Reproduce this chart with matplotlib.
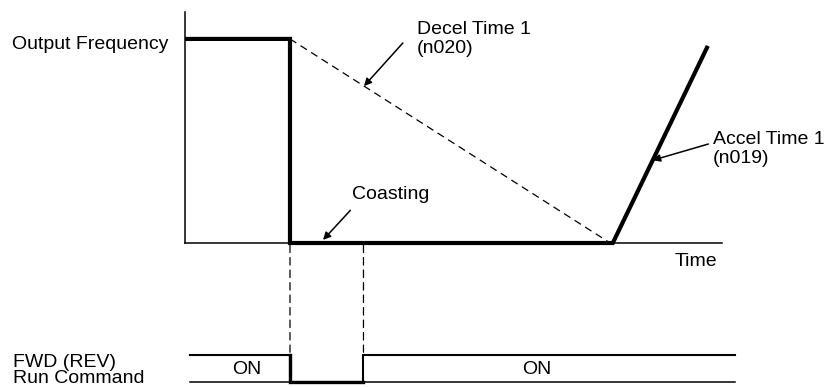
import numpy as np
import matplotlib.pyplot as plt
from matplotlib.patches import ConnectionPatch

# --- Data: output frequency (%) vs. time (s) ---
t_freq = [0.0, 2.0, 2.0, 8.15, 9.96]
f_out = [100, 100, 0, 0, 96.6]

# decel ramp that would have been followed without coasting
t_decel = [2.0, 8.1]
f_decel = [100, 0]

# run command (1 = ON, 0 = OFF)
t_run = [0.1, 2.0, 2.0, 3.4, 3.4, 10.48]
run_cmd = [1, 1, 0, 0, 1, 1]

plt.rcParams['font.family'] = ['Liberation Sans', 'DejaVu Sans']
fs = 14

fig = plt.figure(figsize=(8.33, 3.87), dpi=100)
W, H = 833, 387

# top panel: frequency
ax = fig.add_axes([185 / W, 1 - 243 / H, (722 - 185) / W, (243 - 12) / H])
ax.set_xlim(0, 10.23)
ax.set_ylim(0, 113.2)
for s in ['top', 'right']:
    ax.spines[s].set_visible(False)
for s in ['left', 'bottom']:
    ax.spines[s].set_linewidth(1.1)
ax.set_xticks([])
ax.set_yticks([])
ax.patch.set_alpha(0)

ax.plot(t_freq, f_out, color='black', lw=3.0, solid_joinstyle='miter',
        solid_capstyle='butt', clip_on=False)
ax.plot(t_decel, f_decel, color='black', lw=0.9, ls=(0, (6, 4)), clip_on=False)

arrow = dict(arrowstyle='-|>', color='black', lw=1.1, mutation_scale=11, shrinkA=0, shrinkB=0)

# Decel Time 1
t_head = 3.41
ax.annotate('', xy=(t_head, np.interp(t_head, t_decel, f_decel)),
            xytext=(4.15, 98), arrowprops=arrow, annotation_clip=False)
ax.text(4.42, 100, 'Decel Time 1\n(n020)', fontsize=fs, ha='left', va='center',
        linespacing=1.1)

# Coasting
ax.annotate('', xy=(2.63, 1.5), xytext=(3.15, 16), arrowprops=arrow, annotation_clip=False)
ax.text(3.18, 24, 'Coasting', fontsize=fs, ha='left', va='center')

# Accel Time 1
t_head = 8.91
ax.annotate('', xy=(t_head, np.interp(t_head, t_freq[3:], f_out[3:])),
            xytext=(9.97, 48.5), arrowprops=arrow, annotation_clip=False)
ax.text(10.06, 46, 'Accel Time 1\n(n019)', fontsize=fs, ha='left', va='center',
        linespacing=1.1, clip_on=False)

ax.text(9.33, -9, 'Time', fontsize=fs, ha='left', va='center')
ax.text(-0.32, 97.5, 'Output Frequency', fontsize=fs, ha='right', va='center')

# bottom panel: run command
ax2 = fig.add_axes([185 / W, 0, (722 - 185) / W, 42 / H])
ax2.set_xlim(0, 10.23)
ax2.set_ylim(-0.185, 1.37)
ax2.axis('off')
ax2.patch.set_alpha(0)

ax2.plot(t_run, run_cmd, color='black', lw=1.5, solid_joinstyle='miter', clip_on=False)
ax2.plot([t_run[0], t_run[-1]], [0, 0], color='black', lw=1.1, clip_on=False)
ax2.plot(t_run[1:4], run_cmd[1:4], color='black', lw=2.4, solid_joinstyle='miter', clip_on=False)

ax2.text(1.18, 0.48, 'ON', fontsize=fs, ha='center', va='center')
ax2.text(6.7, 0.48, 'ON', fontsize=fs, ha='center', va='center')
ax2.text(-3.27, 0.42, 'FWD (REV)\nRun Command', fontsize=fs, ha='left', va='center',
         linespacing=0.93, clip_on=False)

# dashed guides linking the command edges to the frequency plot
for t in [2.0, 3.4]:
    con = ConnectionPatch(xyA=(t, -1), coordsA=ax.transData,
                          xyB=(t, 1.1), coordsB=ax2.transData,
                          color='black', lw=0.9, ls=(0, (6, 4)))
    fig.add_artist(con)

fig.savefig('out.png', dpi=100)
